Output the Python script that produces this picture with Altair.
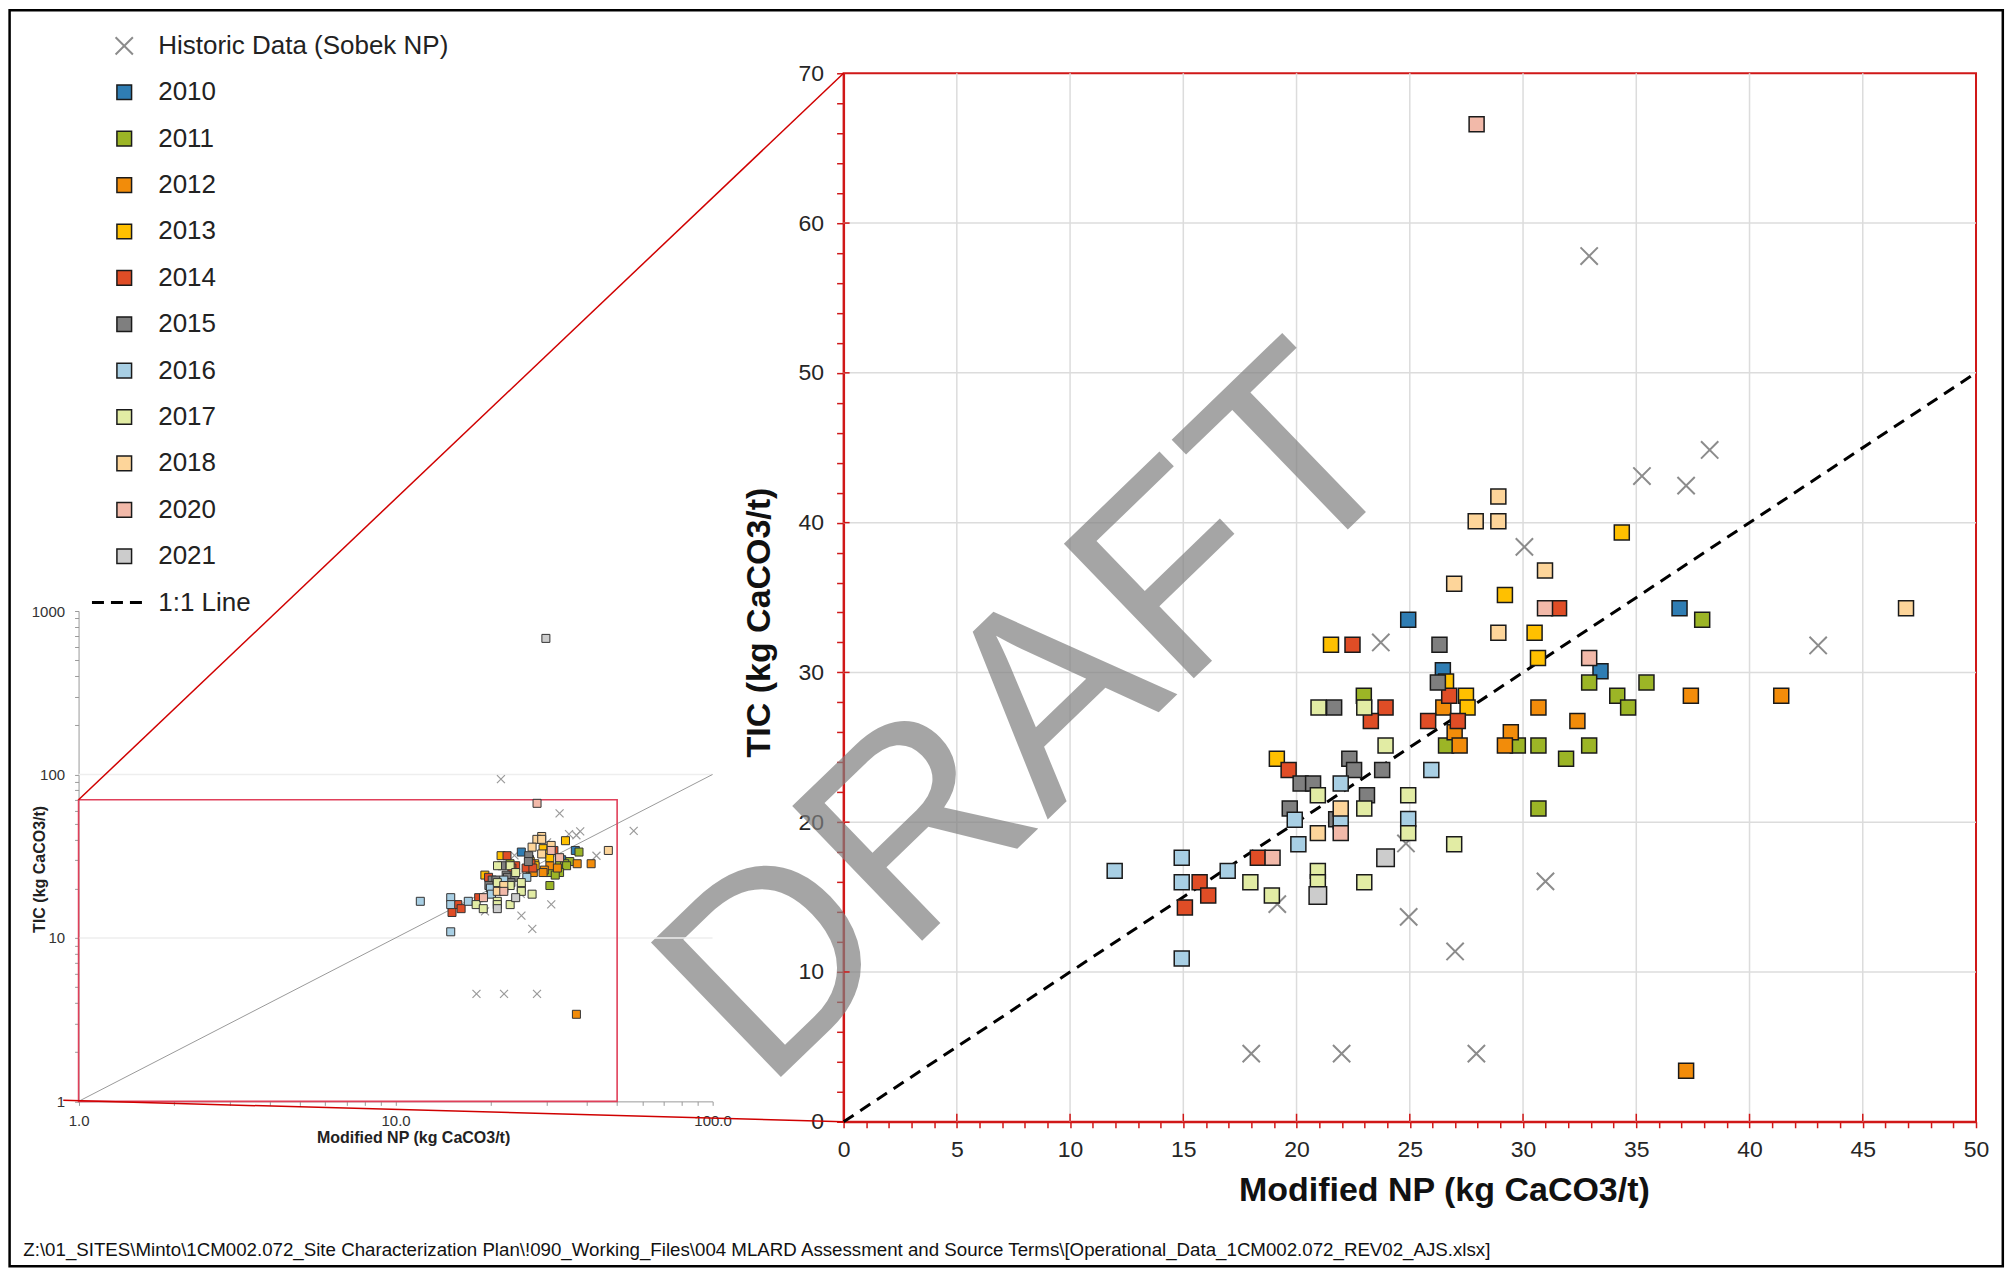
import altair as alt
import pandas as pd

# ---------------- data ----------------
years = ["2010", "2011", "2012", "2013", "2014", "2015", "2016", "2017", "2018", "2020", "2021"]
year_colors = ["#2f7db3", "#9cb526", "#f28c0a", "#ffc000", "#e04d26", "#7f7f7f",
               "#a8cfe4", "#e2eca4", "#fdd59a", "#f2b9a9", "#cccccc"]

np_2010 = [24.93, 26.46, 33.42, 36.91]
tic_2010 = [33.52, 30.14, 30.08, 34.28]

np_2011 = [37.91, 32.92, 35.45, 34.16, 34.64, 22.97, 26.60, 29.77, 30.68, 32.92, 31.90, 30.68]
tic_2011 = [33.52, 29.32, 29.32, 28.44, 27.65, 28.44, 25.12, 25.12, 25.12, 25.12, 24.23, 20.92]

np_2012 = [26.48, 30.68, 37.41, 41.40, 26.98, 29.46, 32.40, 27.20, 29.20, 37.20]
tic_2012 = [27.65, 27.65, 28.44, 28.44, 26.00, 26.00, 26.76, 25.12, 25.12, 3.41]

np_2013 = [34.36, 29.20, 30.51, 21.52, 30.66, 26.60, 27.48, 27.55, 19.13]
tic_2013 = [39.34, 35.17, 32.64, 31.85, 30.96, 29.40, 28.44, 27.65, 24.23]

np_2014 = [31.59, 22.47, 26.74, 23.93, 23.28, 25.81, 27.12, 19.65, 18.29, 15.72, 16.10, 15.07]
tic_2014 = [34.28, 31.85, 28.44, 27.65, 26.76, 26.76, 26.76, 23.48, 17.63, 15.99, 15.10, 14.31]

np_2015 = [26.31, 26.24, 21.66, 22.33, 22.54, 23.78, 20.18, 20.73, 23.11, 19.70, 21.75]
tic_2015 = [31.85, 29.32, 27.65, 24.23, 23.48, 23.48, 22.59, 22.59, 21.80, 20.92, 20.20]

np_2016 = [25.95, 21.95, 19.92, 21.95, 24.93, 20.08, 14.93, 16.96, 14.93, 14.93, 11.97]
tic_2016 = [23.48, 22.59, 20.16, 20.06, 20.22, 18.52, 17.63, 16.75, 15.99, 10.90, 16.75]

np_2017 = [20.97, 22.99, 23.93, 20.94, 24.93, 22.99, 24.93, 26.96, 20.94, 17.96, 20.94, 22.99, 18.91]
tic_2017 = [27.65, 27.65, 25.12, 21.80, 21.80, 20.92, 19.27, 18.52, 16.75, 15.99, 15.99, 15.99, 15.10]

np_2018 = [28.91, 27.91, 28.91, 30.97, 26.96, 46.91, 28.91, 21.95, 20.94]
tic_2018 = [41.74, 40.09, 40.09, 36.81, 35.92, 34.28, 32.64, 20.92, 19.27]

np_2020 = [27.95, 30.97, 32.92, 21.95, 18.94]
tic_2020 = [66.60, 34.28, 30.96, 19.27, 17.63]

np_2021 = [23.93, 20.94, 29.80]
tic_2021 = [17.63, 15.10, 680.0]

hist_np = [23.72, 30.06, 35.25, 37.20, 38.24, 43.03, 32.92, 30.99, 24.83, 24.95,
           27.00, 19.15, 18.00, 21.99, 27.94, 21.50, 56.40]
hist_tic = [32.00, 38.38, 43.11, 42.47, 44.85, 31.80, 57.80, 16.05, 18.58, 13.68,
            11.37, 14.53, 4.55, 4.55, 4.55, 93.70, 45.20]

main_x_ticks = list(range(0, 51))
main_y_ticks = list(range(0, 71, 2))
main_x_major = [5, 10, 15, 20, 25, 30, 35, 40, 45]
main_y_major = [10, 20, 30, 40, 50, 60]

inset_x_ticks = [1, 2, 3, 4, 5, 6, 7, 8, 9, 10, 20, 30, 40, 50, 60, 70, 80, 90, 100]
inset_y_ticks = [1, 2, 3, 4, 5, 6, 7, 8, 9, 10, 20, 30, 40, 50, 60, 70, 80, 90,
                 100, 200, 300, 400, 500, 600, 700, 800, 900, 1000]
inset_grid_y = [10, 100]

legend_labels = ["Historic Data (Sobek NP)"] + years + ["1:1 Line"]
footer = r"Z:\01_SITES\Minto\1CM002.072_Site Characterization Plan\!090_Working_Files\004 MLARD Assessment and Source Terms\[Operational_Data_1CM002.072_REV02_AJS.xlsx]"

# ---------------- tables ----------------
series = [("2010", np_2010, tic_2010), ("2011", np_2011, tic_2011), ("2012", np_2012, tic_2012),
          ("2013", np_2013, tic_2013), ("2014", np_2014, tic_2014), ("2015", np_2015, tic_2015),
          ("2016", np_2016, tic_2016), ("2017", np_2017, tic_2017), ("2018", np_2018, tic_2018),
          ("2020", np_2020, tic_2020), ("2021", np_2021, tic_2021)]
rows = []
for yr, xs_, ys_ in series:
    for a, b in zip(xs_, ys_):
        rows.append({"Year": yr, "NP": a, "TIC": b})
pts = pd.DataFrame(rows)
hist = pd.DataFrame({"NP": hist_np, "TIC": hist_tic})

# ---------------- layout constants ----------------
W, H = 1133, 1049
FONT = "Liberation Sans"
RED = "#d01818"
XSHAPE = "M-1,-1L1,1M-1,1L1,-1"
IN_X0, IN_X1 = -765.4, -131.1     # inset x range (px, relative to main plot origin)
IN_Y0, IN_Y1 = 1028.6, 538.0      # inset y range

COLOR = alt.Color("Year:N", scale=alt.Scale(domain=years, range=year_colors), legend=None)

# ---------------- main plot ----------------
ax_x_main = alt.Axis(orient="bottom", values=main_x_ticks,
                     labelExpr="datum.value % 5 === 0 ? datum.label : ''",
                     grid=False, domainColor=RED, domainWidth=2, tickColor=RED, tickWidth=1.5,
                     tickSize=6, labelFont=FONT, labelFontSize=23, labelColor="#262626",
                     labelPadding=11, labelFlush=False, labelOverlap=False,
                     title="Modified NP (kg CaCO3/t)", titleFont=FONT, titleFontSize=34,
                     titleFontWeight="bold", titleColor="#111111",
                     titleX=600.6, titleY=69, titleBaseline="middle")
ax_y_main = alt.Axis(orient="left", values=main_y_ticks,
                     labelExpr="datum.value % 10 === 0 ? datum.label : ''",
                     grid=False, domainColor=RED, domainWidth=2, tickColor=RED, tickWidth=1.5,
                     tickSize=7, labelFont=FONT, labelFontSize=23, labelColor="#262626",
                     labelPadding=13, labelFlush=False, labelOverlap=False,
                     title="TIC (kg CaCO3/t)", titleFont=FONT, titleFontSize=34,
                     titleFontWeight="bold", titleColor="#111111",
                     titleX=-83.7, titleY=549, titleBaseline="middle", titleAngle=270)

X_main = alt.X("NP:Q", scale=alt.Scale(domain=[0, 50], nice=False, zero=False), axis=ax_x_main)
Y_main = alt.Y("TIC:Q", scale=alt.Scale(domain=[0, 70], nice=False, zero=False), axis=ax_y_main)

vgrid = alt.Chart(pd.DataFrame({"NP": main_x_major})).mark_rule(
    color="#dcdcdc", strokeWidth=1.5).encode(x=X_main)
hgrid = alt.Chart(pd.DataFrame({"TIC": main_y_major})).mark_rule(
    color="#dcdcdc", strokeWidth=1.5).encode(y=Y_main)
watermark = alt.Chart(pd.DataFrame({"NP": [8.4], "TIC": [26.9], "t": ["DRAFT"]})).mark_text(
    font=FONT, fontSize=272, angle=316, color="#808080", opacity=0.7,
    align="center", baseline="middle").encode(x=X_main, y=Y_main, text="t:N")
line11 = alt.Chart(pd.DataFrame({"NP": [0, 50], "TIC": [0, 50]})).mark_line(
    color="black", strokeWidth=3, strokeDash=[12, 8]).encode(x=X_main, y=Y_main)
hist_main = alt.Chart(hist).mark_point(
    shape=XSHAPE, filled=False, color="#8c8c8c", strokeWidth=2, size=300, opacity=1,
    clip=True).encode(x=X_main, y=Y_main)
sq_main = alt.Chart(pts).mark_point(
    shape="square", filled=True, stroke="#1a1a1a", strokeWidth=1.5, opacity=1,
    clip=True).encode(x=X_main, y=Y_main, color=COLOR,
                      size=alt.condition("datum.Year == '2021'", alt.value(306), alt.value(225)))
x_inner = alt.Chart(pd.DataFrame({"NP": main_x_major})).mark_rule(
    color=RED, strokeWidth=1.5).encode(x=X_main, y=alt.value(H - 8), y2=alt.value(H))
y_inner = alt.Chart(pd.DataFrame({"TIC": main_y_major})).mark_rule(
    color=RED, strokeWidth=1.5).encode(y=Y_main, x=alt.value(0), x2=alt.value(6))

main_group = alt.layer(vgrid, hgrid, watermark, line11, hist_main, sq_main, x_inner, y_inner)

# ---------------- inset (log-log) ----------------
ax_x_in = alt.Axis(orient="bottom", offset=IN_Y0 - H, values=inset_x_ticks,
                   labelExpr="indexof([1,10,100], datum.value) >= 0 ? format(datum.value, '.1f') : ''",
                   grid=False, domainColor="#9a9a9a", tickColor="#9a9a9a", tickSize=4,
                   labelFont=FONT, labelFontSize=15, labelColor="#333333", labelPadding=8,
                   labelFlush=False, labelOverlap=False,
                   title="Modified NP (kg CaCO3/t)", titleFont=FONT, titleFontSize=16,
                   titleFontWeight="bold", titleColor="#222222",
                   titleX=-430.7, titleY=36.5, titleBaseline="middle")
ax_y_in = alt.Axis(orient="left", offset=-IN_X0, values=inset_y_ticks,
                   labelExpr="indexof([1,10,100,1000], datum.value) >= 0 ? format(datum.value, 'd') : ''",
                   grid=False, domainColor="#9a9a9a", tickColor="#9a9a9a", tickSize=4,
                   labelFont=FONT, labelFontSize=15, labelColor="#333333", labelPadding=10,
                   labelFlush=False, labelOverlap=False,
                   title="TIC (kg CaCO3/t)", titleFont=FONT, titleFontSize=16,
                   titleFontWeight="bold", titleColor="#222222",
                   titleX=-39.5, titleY=796, titleBaseline="middle", titleAngle=270)

X_in = alt.X("NP:Q", scale=alt.Scale(type="log", domain=[1, 100], range=[IN_X0, IN_X1], nice=False),
             axis=ax_x_in)
Y_in = alt.Y("TIC:Q", scale=alt.Scale(type="log", domain=[1, 1000], range=[IN_Y0, IN_Y1], nice=False),
             axis=ax_y_in)

in_grid = alt.Chart(pd.DataFrame({"NP": [1] * len(inset_grid_y), "NP2": [100] * len(inset_grid_y),
                                  "TIC": inset_grid_y})).mark_rule(
    color="#eeeeee", strokeWidth=1.5).encode(x=X_in, x2="NP2:Q", y=Y_in)
in_line = alt.Chart(pd.DataFrame({"NP": [1, 100], "TIC": [1, 100]})).mark_line(
    color="#9a9a9a", strokeWidth=1).encode(x=X_in, y=Y_in)
in_box = alt.Chart(pd.DataFrame({"NP": [1], "NP2": [50], "TIC": [1], "TIC2": [70]})).mark_rect(
    fillOpacity=0, stroke="#e0405a", strokeWidth=1.6).encode(x=X_in, x2="NP2:Q", y=Y_in, y2="TIC2:Q")
in_hist = alt.Chart(hist).mark_point(
    shape=XSHAPE, filled=False, color="#9a9a9a", strokeWidth=1.2, size=64, opacity=1
).encode(x=X_in, y=Y_in)
in_sq = alt.Chart(pts).mark_point(
    shape="square", filled=True, stroke="#333333", strokeWidth=1, size=64, opacity=1
).encode(x=X_in, y=Y_in, color=COLOR)

inset_group = alt.layer(in_grid, in_line, in_box, in_hist, in_sq)

# ---------------- custom legend ----------------
LEG_Y = alt.Y("row:Q", scale=alt.Scale(domain=[0, 12], range=[-27.4, 529.6], nice=False, zero=False),
              axis=None)
LEG_SYM_X = -719.7
leg_text = alt.Chart(pd.DataFrame({"row": list(range(13)), "label": legend_labels})).mark_text(
    align="left", baseline="middle", font=FONT, fontSize=26, color="#222222"
).encode(x=alt.value(-685.7), y=LEG_Y, text="label:N")
leg_sq = alt.Chart(pd.DataFrame({"row": list(range(1, 12)), "Year": years})).mark_point(
    shape="square", filled=True, stroke="#1a1a1a", strokeWidth=1.5, size=215, opacity=1
).encode(x=alt.value(LEG_SYM_X), y=LEG_Y, color=COLOR)
leg_x = alt.Chart(pd.DataFrame({"row": [0]})).mark_point(
    shape=XSHAPE, filled=False, color="#8c8c8c", strokeWidth=2, size=300, opacity=1
).encode(x=alt.value(LEG_SYM_X), y=LEG_Y)
leg_dash = alt.Chart(pd.DataFrame({"row": [12]})).mark_rule(
    color="black", strokeWidth=3, strokeDash=[12, 7]
).encode(x=alt.value(-752), x2=alt.value(-700), y=LEG_Y)

legend_group = alt.layer(leg_x, leg_sq, leg_dash, leg_text)

# ---------------- decorations ----------------
one = pd.DataFrame({"a": [0]})
frame = alt.Chart(one).mark_rect(fillOpacity=0, stroke="black", strokeWidth=2.5).encode(
    x=alt.value(-834.4), x2=alt.value(1159.8), y=alt.value(-63.1), y2=alt.value(1193.6))
conn_top = alt.Chart(one).mark_rule(color="#d00000", strokeWidth=1.5).encode(
    x=alt.value(IN_X0), y=alt.value(726.9), x2=alt.value(0), y2=alt.value(0))
conn_bot = alt.Chart(one).mark_rule(color="#d00000", strokeWidth=1.5).encode(
    x=alt.value(-780.7), y=alt.value(IN_Y0 - 1), x2=alt.value(0), y2=alt.value(H))
foot = alt.Chart(one).mark_text(align="left", baseline="middle", font=FONT, fontSize=18.7,
                                color="#111111").encode(
    x=alt.value(-820.7), y=alt.value(1177.5), text=alt.value(footer))

decor_group = alt.layer(frame, conn_top, conn_bot, foot)

chart = alt.layer(main_group, inset_group, legend_group, decor_group).resolve_scale(
    x="independent", y="independent"
).properties(width=W, height=H, padding=0).configure_view(stroke=RED, strokeWidth=2)

chart.save("out.html", embed_options={"renderer": "svg", "actions": False})
